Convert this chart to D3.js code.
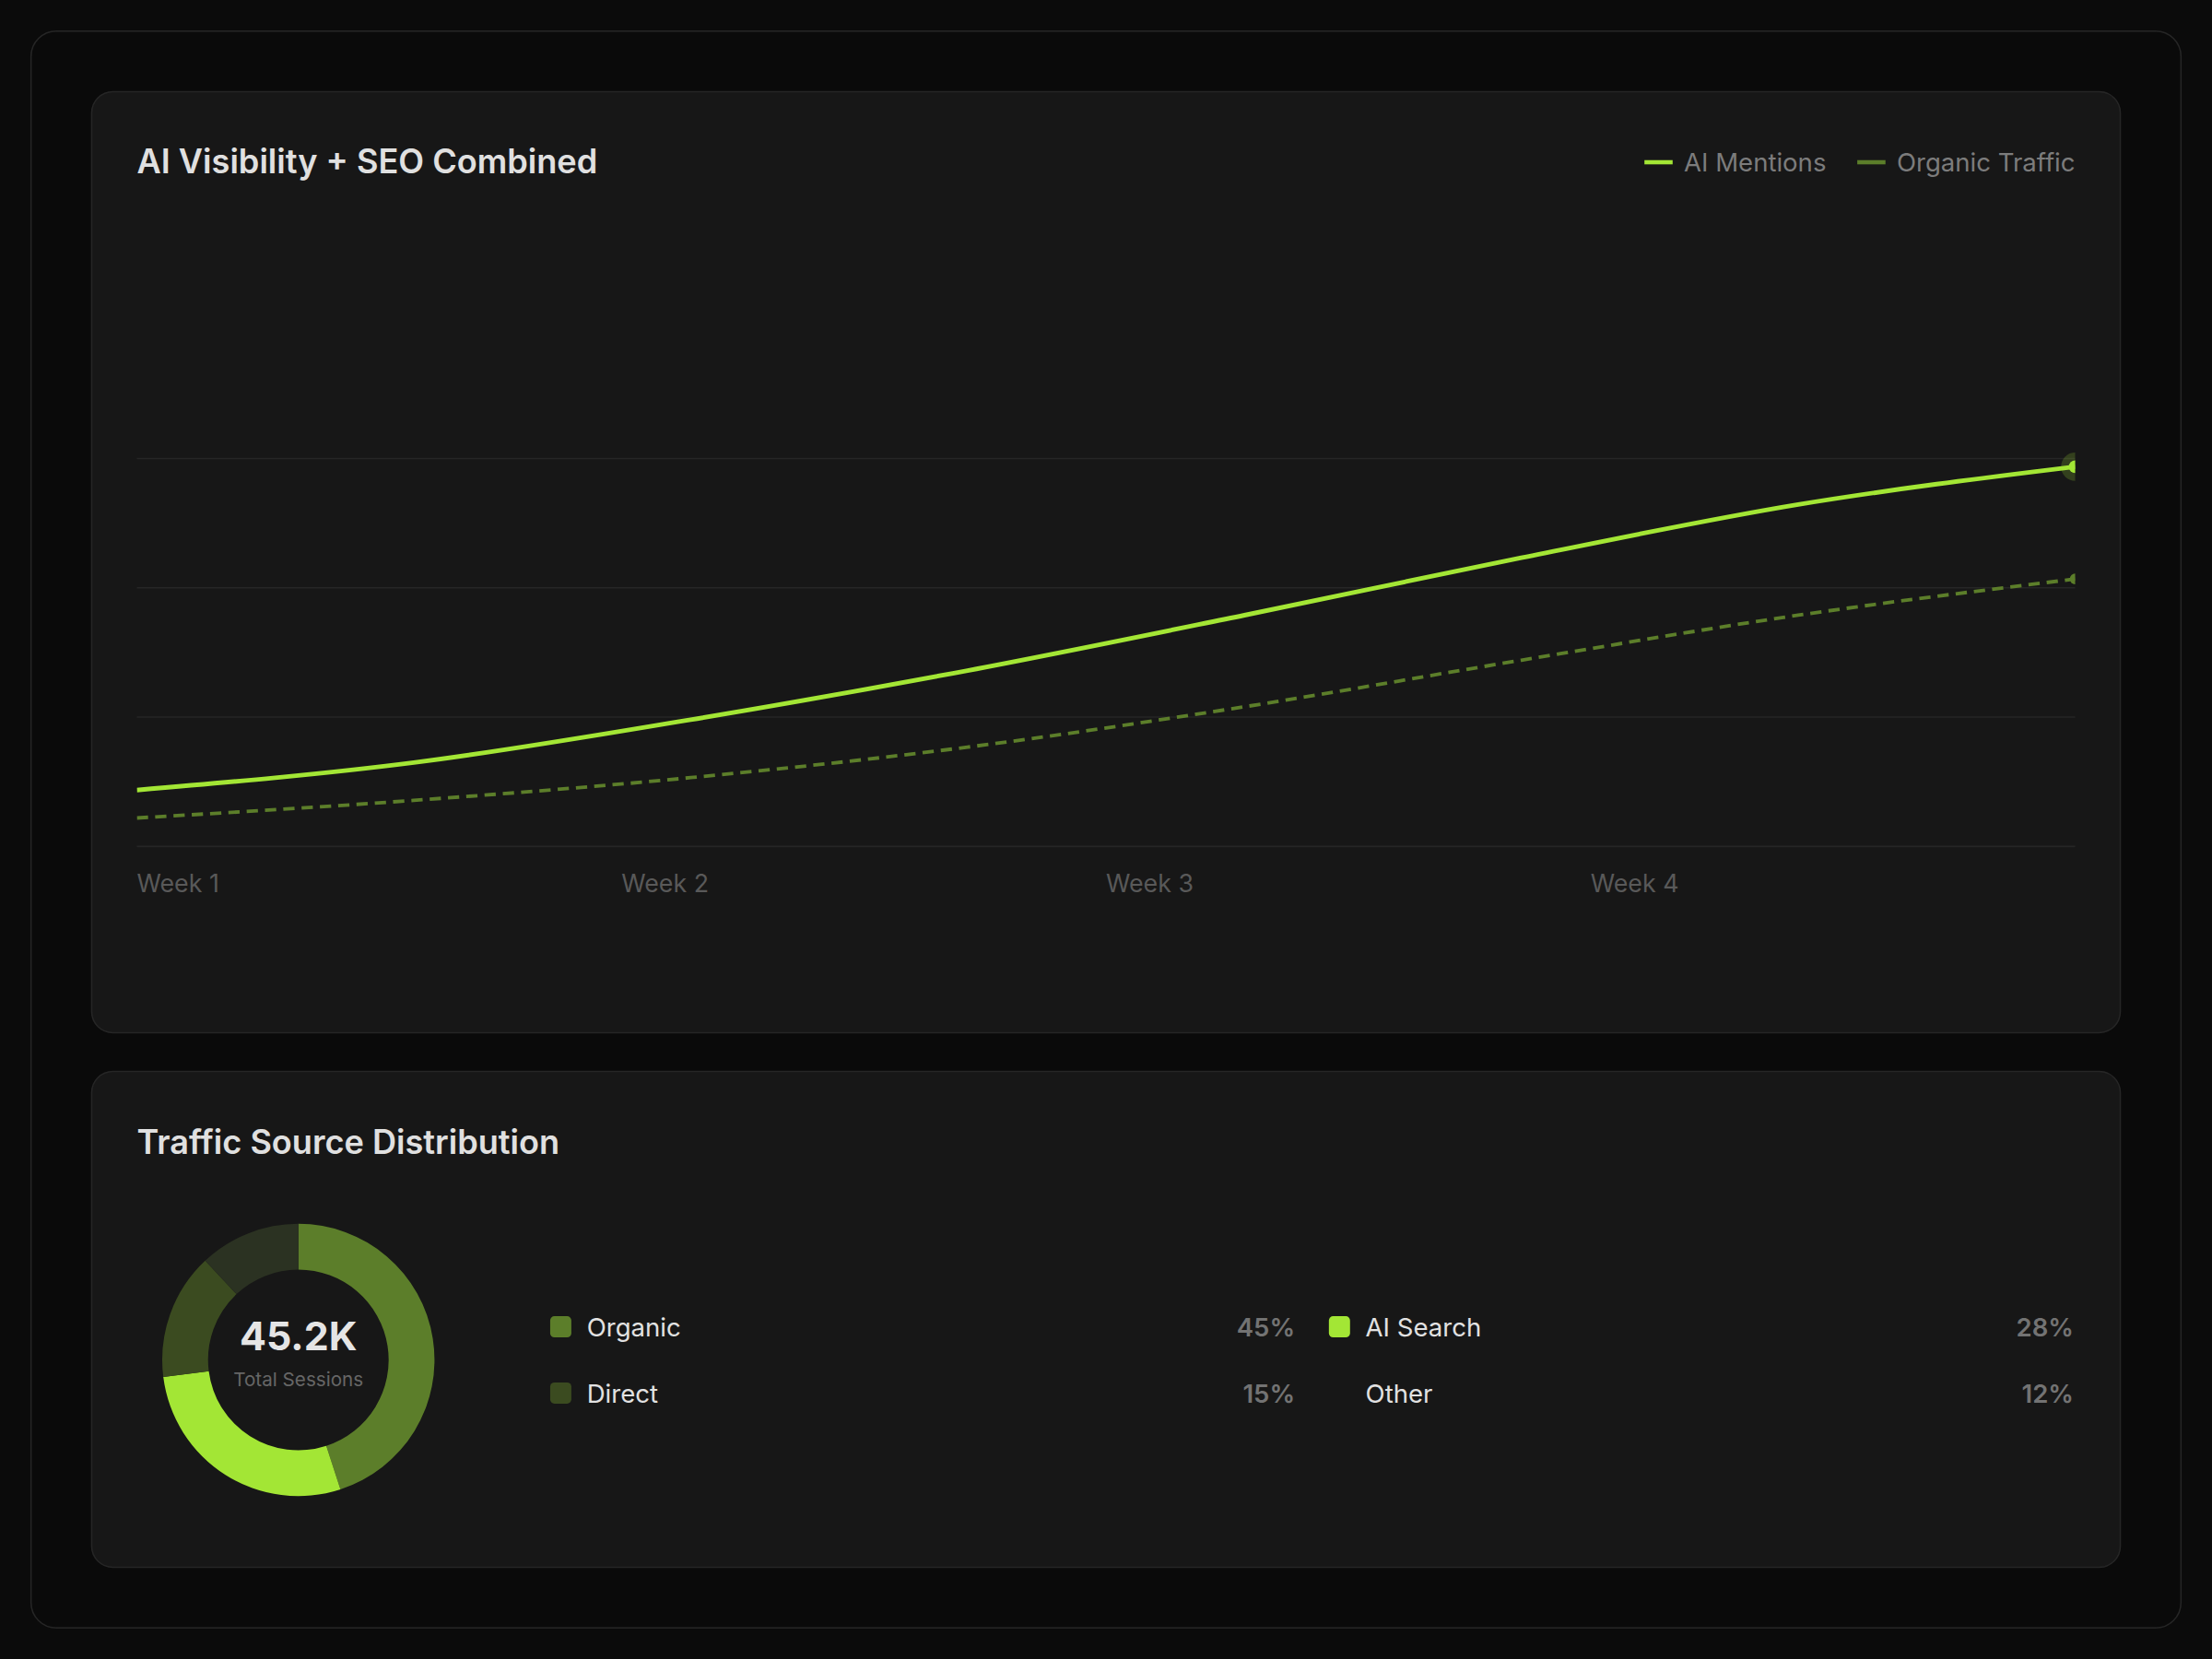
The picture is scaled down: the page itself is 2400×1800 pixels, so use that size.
<!DOCTYPE html>
<html>
<head>
<meta charset="utf-8">
<script src="https://cdn.jsdelivr.net/npm/d3@7"></script>
<style>
  html, body { margin: 0; background: #0b0b0b; }
  svg { display: block; font-family: Inter, "Noto Sans", sans-serif; }
</style>
</head>
<body>
<svg id="chart"></svg>
<script>
// ---- data ----
const weekLabels = ["Week 1", "Week 2", "Week 3", "Week 4"]
const pointIndex = [0, 1, 2, 3, 4, 5, 6, 7]
const aiMentions = [10.9, 16.2, 24.5, 34.0, 44.7, 55.8, 66.1, 73.4]
const organicTraffic = [5.5, 8.9, 13.3, 19.2, 27.0, 36.0, 44.7, 51.7]
const gridValues = [0, 25, 50, 75]

const sourceNames = ["Organic", "AI Search", "Direct", "Other"]
const sourceShares = [45, 28, 15, 12]
const totalSessions = "45.2K"

// colours
const lime = "#a3e635"
const olive = "#5c7e2a"
const sourceColors = ["#5c7e2a", "#a3e635", "#3b4b20", "#2b3222"]
const swatchColors = ["#5c7e2a", "#a3e635", "#3b4b20", "none"]

// the layout is drawn on a 1568 x 1176 board and scaled to the window
const W = 1568, H = 1176
const svg = d3.select("#chart")
  .attr("width", 2400).attr("height", 1800)
  .attr("viewBox", `0 0 ${W} ${H}`)

// outer frame + two cards
svg.append("rect")
  .attr("x", 22).attr("y", 22).attr("width", 1524).attr("height", 1132)
  .attr("rx", 18).attr("fill", "#0a0a0a").attr("stroke", "#262626").attr("stroke-width", 1)

const cards = [{ y: 65, h: 667 }, { y: 759.5, h: 351.5 }]
svg.selectAll(".card").data(cards).join("rect")
  .attr("class", "card")
  .attr("x", 65).attr("y", d => d.y).attr("width", 1438).attr("height", d => d.h)
  .attr("rx", 15).attr("fill", "#171717").attr("stroke", "#262626").attr("stroke-width", 1)

// ---------- line chart ----------
const left = 97, right = 1471

svg.append("text")
  .attr("x", left).attr("y", 123)
  .attr("font-size", 23.6).attr("font-weight", 600).attr("fill", "#e0e0e0")
  .text("AI Visibility + SEO Combined")

const x = d3.scaleLinear().domain(d3.extent(pointIndex)).range([left, right])
const y = d3.scaleLinear().domain([0, 100]).range([600, 233.3])
const weekScale = d3.scaleLinear().domain([0, weekLabels.length]).range([left, right])

// gridlines
svg.append("g").selectAll("line").data(gridValues).join("line")
  .attr("x1", left).attr("x2", right)
  .attr("y1", d => y(d)).attr("y2", d => y(d))
  .attr("stroke", "#262626").attr("stroke-width", 1)

// week labels
svg.append("g").selectAll("text").data(weekLabels).join("text")
  .attr("x", (d, i) => weekScale(i)).attr("y", 632.5)
  .attr("font-size", 17.5).attr("fill", "#595959")
  .text(d => d)

svg.append("clipPath").attr("id", "plotClip")
  .append("rect").attr("x", left).attr("y", 150).attr("width", right - left).attr("height", 470)

const plot = svg.append("g").attr("clip-path", "url(#plotClip)")

const line = d3.line()
  .x((d, i) => x(pointIndex[i]))
  .y(d => y(d))
  .curve(d3.curveMonotoneX)

plot.append("path").datum(organicTraffic)
  .attr("d", line).attr("fill", "none")
  .attr("stroke", olive).attr("stroke-width", 2.5).attr("stroke-dasharray", "8 5")

plot.append("path").datum(aiMentions)
  .attr("d", line).attr("fill", "none")
  .attr("stroke", lime).attr("stroke-width", 3.2)

// end markers
const last = pointIndex.length - 1
plot.append("circle")
  .attr("cx", x(pointIndex[last])).attr("cy", y(aiMentions[last]))
  .attr("r", 10).attr("fill", lime).attr("fill-opacity", 0.2)
plot.append("circle")
  .attr("cx", x(pointIndex[last])).attr("cy", y(aiMentions[last]))
  .attr("r", 4.5).attr("fill", lime)
plot.append("circle")
  .attr("cx", x(pointIndex[last])).attr("cy", y(organicTraffic[last]))
  .attr("r", 3.8).attr("fill", olive)

// legend, laid out from the right edge
const legendItems = [
  { name: "AI Mentions", color: lime },
  { name: "Organic Traffic", color: olive }
]
const legend = svg.append("g")
let cursor = right
legendItems.slice().reverse().forEach(item => {
  const t = legend.append("text")
    .attr("x", cursor).attr("y", 121.5).attr("text-anchor", "end")
    .attr("font-size", 18).attr("fill", "#7c7c7c")
    .text(item.name)
  const w = t.node().getComputedTextLength()
  const sx = cursor - w - 8 - 20
  legend.append("line")
    .attr("x1", sx).attr("x2", sx + 20).attr("y1", 115).attr("y2", 115)
    .attr("stroke", item.color).attr("stroke-width", 3)
  cursor = sx - 22
})

// ---------- donut ----------
svg.append("text")
  .attr("x", left).attr("y", 818)
  .attr("font-size", 23.6).attr("font-weight", 600).attr("fill", "#e0e0e0")
  .text("Traffic Source Distribution")

const cx = 211.5, cy = 964
const pie = d3.pie().sort(null).value(d => d)
const arc = d3.arc().innerRadius(64).outerRadius(96.5)

const donut = svg.append("g").attr("transform", `translate(${cx},${cy})`)
donut.selectAll("path").data(pie(sourceShares)).join("path")
  .attr("d", arc)
  .attr("fill", (d, i) => sourceColors[i])

donut.append("text")
  .attr("y", -7).attr("text-anchor", "middle")
  .attr("font-size", 28).attr("font-weight", 700).attr("fill", "#e5e5e5")
  .text(totalSessions)
donut.append("text")
  .attr("y", 18.5).attr("text-anchor", "middle")
  .attr("font-size", 13.5).attr("fill", "#666666")
  .text("Total Sessions")

// source legend grid: 2 columns, 2 rows
const gridLeft = 390, gridRight = 1470, colGap = 24
const colW = (gridRight - gridLeft - colGap) / 2
const rowBase = [947.5, 994.5]

const items = svg.append("g").selectAll("g").data(sourceNames).join("g")
  .attr("transform", (d, i) => {
    const col = i % 2, row = Math.floor(i / 2)
    return `translate(${gridLeft + col * (colW + colGap)},${rowBase[row]})`
  })

items.append("rect")
  .attr("x", 0).attr("y", -14.5).attr("width", 15).attr("height", 15).attr("rx", 3)
  .attr("fill", (d, i) => swatchColors[i])

items.append("text")
  .attr("x", 26).attr("font-size", 18).attr("fill", "#e2e2e2")
  .text(d => d)

items.append("text")
  .attr("x", colW).attr("text-anchor", "end")
  .attr("font-size", 18).attr("font-weight", 600).attr("fill", "#737373")
  .text((d, i) => sourceShares[i] + "%")
</script>
</body>
</html>
